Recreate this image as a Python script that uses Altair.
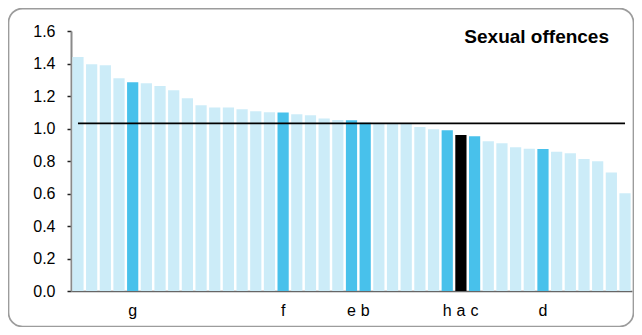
import altair as alt
import pandas as pd

# Bar values (sorted descending)
values = [1.44, 1.395, 1.39, 1.309, 1.284, 1.278, 1.262, 1.235, 1.186, 1.143,
          1.13, 1.129, 1.118, 1.106, 1.10, 1.098, 1.087, 1.081, 1.061, 1.052,
          1.051, 1.036, 1.032, 1.03, 1.028, 1.009, 0.995, 0.989, 0.96, 0.952,
          0.921, 0.909, 0.884, 0.876, 0.874, 0.857, 0.847, 0.812, 0.798, 0.73,
          0.601]
# Letter labels shown under some bars ("" = unlabeled)
letters = ["", "", "", "", "g", "", "", "", "", "",
           "", "", "", "", "", "f", "", "", "", "",
           "e", "b", "", "", "", "", "", "h", "a", "c",
           "", "", "", "", "d", "", "", "", "", "",
           ""]
# Group of each bar: other / compared / selected
groups = ["other" if l == "" else ("selected" if l == "a" else "compared") for l in letters]
average = 1.032
y_ticks = [0.0, 0.2, 0.4, 0.6, 0.8, 1.0, 1.2, 1.4, 1.6]
title_text = "Sexual offences"

ids = [f"{i:02d}" for i in range(len(values))]
df = pd.DataFrame({"id": ids, "value": values, "label": letters, "group": groups})
df_avg = pd.DataFrame({"x": [ids[0]], "x2": [ids[-1]], "y": [average]})
df_title = pd.DataFrame({"text": [title_text]})
df_frame = pd.DataFrame({"k": [0]})

label_expr = ""
for i, l in zip(ids, letters):
    if l:
        label_expr += f"datum.value == '{i}' ? '{l}' : "
label_expr += "''"

FONT = "Liberation Sans"

x_scale = alt.Scale(paddingInner=0.18, paddingOuter=0.1)
y_scale = alt.Scale(domain=[0, 1.6], nice=False)

x_axis = alt.Axis(title=None, ticks=False, labelAngle=0, labelExpr=label_expr,
                  domainColor="#666666", domainWidth=1.5, labelPadding=11,
                  labelOverlap=False,
                  labelFont=FONT, labelFontSize=16, labelColor="black")
y_axis = alt.Axis(title=None, values=y_ticks, tickCount=9, labelOverlap=False,
                  format=".1f", grid=False, domainColor="#8a8a8a", domainWidth=2,
                  tickColor="#222222", tickSize=4, tickWidth=1.5, labelPadding=12,
                  labelFont=FONT, labelFontSize=16, labelColor="black")

frame = alt.Chart(df_frame).mark_rect(
    fill="white", fillOpacity=0, stroke="#9c9c9c", strokeWidth=1.75, cornerRadius=14
).encode(
    x=alt.value(-62.5), x2=alt.value(562.5), y=alt.value(-22.5), y2=alt.value(295.5)
)

bars = alt.Chart(df).mark_bar().encode(
    x=alt.X("id:N", sort=None, scale=x_scale, axis=x_axis),
    y=alt.Y("value:Q", scale=y_scale, axis=y_axis),
    color=alt.Color("group:N",
                    scale=alt.Scale(domain=["other", "compared", "selected"],
                                    range=["#CCECF8", "#48C1EB", "#000000"]),
                    legend=None),
)

avg_line = alt.Chart(df_avg).mark_rule(color="black", strokeWidth=1.8).encode(
    x=alt.X("x:N", sort=None, scale=x_scale, axis=x_axis),
    x2="x2:N",
    y=alt.Y("y:Q", scale=y_scale, axis=y_axis),
)

title = alt.Chart(df_title).mark_text(
    align="right", baseline="alphabetic", font=FONT, fontSize=19,
    fontWeight="bold", color="black"
).encode(x=alt.value(538), y=alt.value(12), text="text:N")

chart = alt.layer(frame, bars, avg_line, title).properties(
    width=561, height=260,
    autosize=alt.AutoSizeParams(type="none"),
    padding={"left": 63, "top": 23, "right": 2, "bottom": 36},
).configure_view(stroke=None)

chart.save("out.html", embed_options={"renderer": "svg", "actions": False})
